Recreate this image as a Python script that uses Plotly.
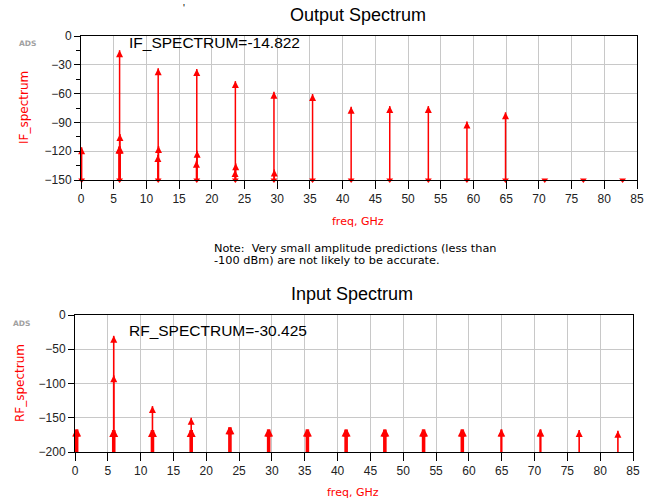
import plotly.graph_objects as go

W, H = 657, 502

# ---------------- data ----------------
# Output (IF) spectrum: components [GHz], levels [dBm]
if_freq = [0.1,
           5.8, 5.9, 5.9, 5.95, 6.0,
           11.75, 11.8, 11.85,
           17.65, 17.7, 17.75,
           23.55, 23.6, 23.65,
           29.5, 29.55,
           35.4,
           41.3, 47.2, 53.1, 59.0, 64.9]
if_level = [-116,
            -115, -14.8, -115, -102, -115,
            -124, -33.6, -114.6,
            -130, -34.4, -119.5,
            -139.6, -47, -132.6,
            -58, -139,
            -60.4,
            -73.6, -73, -73, -89, -79.5]
# components below the displayed range (shown at the floor)
if_low_freq = [0.1, 5.9, 11.8, 17.7, 23.6, 29.5, 35.4, 41.3, 47.2, 53.1, 59.0, 64.9, 70.9, 76.8, 82.8]

# Input (RF) spectrum
rf_freq = [0.1, 0.25, 0.4,
           5.9, 5.9, 5.75, 5.9, 6.05,
           11.8, 11.65, 11.8, 11.95,
           17.7, 17.55, 17.7, 17.85,
           23.45, 23.6, 23.75,
           29.35, 29.5, 29.65,
           35.25, 35.4, 35.55,
           41.15, 41.3, 41.45,
           47.05, 47.2, 47.35,
           52.95, 53.1, 53.25,
           58.85, 59.0, 59.15,
           64.9, 65.0,
           70.85, 70.95,
           76.8,
           82.7]
rf_level = [-167, -167, -167,
            -30.4, -88, -168, -168, -168,
            -133, -168, -168, -168,
            -150, -168, -168, -168,
            -164, -164, -164,
            -167, -167, -167,
            -167, -167, -167,
            -167, -167, -167,
            -167, -167, -167,
            -167, -167, -167,
            -167, -167, -167,
            -167, -167,
            -167, -167,
            -168,
            -169]

x_ticks = [0, 5, 10, 15, 20, 25, 30, 35, 40, 45, 50, 55, 60, 65, 70, 75, 80, 85]
if_yticks = [0, -30, -60, -90, -120, -150]
rf_yticks = [0, -50, -100, -150, -200]

RED = "#ff0000"
FONT = "Liberation Sans, Arial, sans-serif"
WIDE = "DejaVu Sans, Verdana, sans-serif"


def stems(freqs, levels, floor):
    xs, ys = [], []
    for f, v in zip(freqs, levels):
        xs += [f, f, None]
        ys += [floor, v, None]
    return xs, ys


fig = go.Figure()

# top plot
sx, sy = stems(if_freq, if_level, -150)
fig.add_trace(go.Scatter(x=sx, y=sy, mode="lines", line=dict(color=RED, width=1.5),
                         xaxis="x", yaxis="y", hoverinfo="skip", showlegend=False))
fig.add_trace(go.Scatter(x=if_freq, y=if_level, mode="markers",
                         marker=dict(symbol="arrow-up", size=7, color=RED, line=dict(width=0)),
                         xaxis="x", yaxis="y", showlegend=False, cliponaxis=False))
fig.add_trace(go.Scatter(x=if_low_freq, y=[-150] * len(if_low_freq), mode="markers",
                         marker=dict(symbol="triangle-down", size=6, color=RED, line=dict(width=0)),
                         xaxis="x", yaxis="y", showlegend=False, cliponaxis=False))

# bottom plot
sx, sy = stems(rf_freq, rf_level, -200)
fig.add_trace(go.Scatter(x=sx, y=sy, mode="lines", line=dict(color=RED, width=1.6),
                         xaxis="x2", yaxis="y2", hoverinfo="skip", showlegend=False))
fig.add_trace(go.Scatter(x=rf_freq, y=rf_level, mode="markers",
                         marker=dict(symbol="arrow-up", size=7, color=RED, line=dict(width=0)),
                         xaxis="x2", yaxis="y2", showlegend=False, cliponaxis=False))


def px_x(p):
    return p / W


def px_y(p):
    return 1 - p / H


grid = "#c8c8c8"
tickfont = dict(family=FONT, size=12, color="#222222")

common_x = dict(range=[0, 85], tickvals=x_ticks, showgrid=True, gridcolor=grid, gridwidth=1,
                showline=True, linecolor="black", linewidth=1, mirror=True, automargin=False,
                ticks="outside", ticklen=8, tickcolor="black", tickfont=tickfont, zeroline=False)
common_y = dict(showgrid=True, gridcolor=grid, gridwidth=1, automargin=False,
                showline=True, linecolor="black", linewidth=1, mirror=True,
                ticks="outside", ticklen=6, tickcolor="black", tickfont=tickfont, zeroline=False)

fig.update_layout(
    width=W, height=H,
    margin=dict(l=0, r=0, t=0, b=0, pad=0, autoexpand=False),
    paper_bgcolor="white", plot_bgcolor="white",
    font=dict(family=FONT),
    xaxis=dict(domain=[px_x(81), px_x(637)], anchor="y", **common_x),
    yaxis=dict(domain=[px_y(180), px_y(36)], anchor="x", range=[-150, 0], tickvals=if_yticks,
               minor=dict(dtick=15, tick0=0, ticks="outside", ticklen=4, tickcolor="black", showgrid=False),
               **common_y),
    xaxis2=dict(domain=[px_x(75), px_x(633)], anchor="y2", **common_x),
    yaxis2=dict(domain=[px_y(452), px_y(315)], anchor="x2", range=[-200, 0], tickvals=rf_yticks,
                **common_y),
)

ann = []


def add_text(text, x, y, size, color="black", xanchor="center", yanchor="middle", textangle=0,
             align="center", family=FONT):
    ann.append(dict(text=text, x=px_x(x), y=px_y(y), xref="paper", yref="paper",
                    showarrow=False, xanchor=xanchor, yanchor=yanchor, textangle=textangle,
                    align=align, font=dict(family=family, size=size, color=color)))


add_text("Output Spectrum", 358, 15, 18)
add_text("Input Spectrum", 352, 294, 18)
add_text("IF_SPECTRUM=-14.822", 127, 42, 15.5, xanchor="left")
add_text("RF_SPECTRUM=-30.425", 127, 330, 15.5, xanchor="left")
add_text("IF_spectrum", 24, 108, 12, color=RED, textangle=-90, family=WIDE)
add_text("RF_spectrum", 20, 383, 12, color=RED, textangle=-90, family=WIDE)
add_text("freq, GHz", 358, 221, 11, color=RED, family=WIDE)
add_text("freq, GHz", 353, 492, 11, color=RED, family=WIDE)
add_text("<b>ADS</b>", 27, 43, 7.5, color="#a0a0a0", family=WIDE)
add_text("<b>ADS</b>", 21, 323, 7.5, color="#a0a0a0", family=WIDE)
add_text("Note:  Very small amplitude predictions (less than", 212, 248, 11.3, xanchor="left", family=WIDE)
add_text("-100 dBm) are not likely to be accurate.", 212, 260, 11.3, xanchor="left", family=WIDE)
add_text("'", 184, 9, 10)

fig.update_layout(annotations=ann)
fig.write_html("out.html", config={"displayModeBar": False},
               post_script="document.body.style.margin='0';document.body.style.overflow='hidden';")
